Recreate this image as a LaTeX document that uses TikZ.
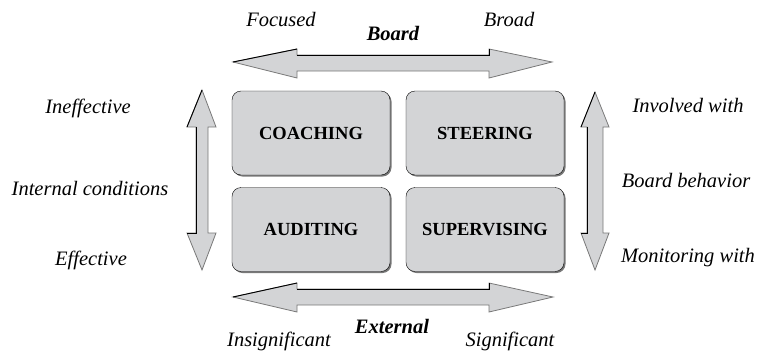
\documentclass[tikz,border=0pt]{standalone}
\usepackage{fontspec}
\setmainfont{Liberation Serif}
\usetikzlibrary{shadows}

\definecolor{boxgray}{RGB}{211,212,214}
\definecolor{edgegray}{RGB}{120,120,120}

\begin{document}
\begin{tikzpicture}[x=1pt,y=-1pt]
	\tikzstyle{Quad}	= [rounded corners=9pt, draw=black, fill=boxgray, minimum width=158pt, minimum height=84pt, inner sep=0pt,
				   font=\fontsize{18.5}{20}\selectfont\bfseries,
				   drop shadow={shadow xshift=1.5pt, shadow yshift=-1.5pt, fill=edgegray, opacity=1}]
	\tikzstyle{Pole}	= [anchor=base, inner sep=0pt, font=\fontsize{20.5}{22}\selectfont\itshape]
	\tikzstyle{Axis}	= [anchor=base, inner sep=0pt, font=\fontsize{20.5}{22}\selectfont\bfseries\itshape]
	\tikzstyle{Shaft}	= [fill=boxgray, draw=edgegray, line width=0.8pt, line join=miter]
	\tikzstyle{Lit}		= [black, line width=0.9pt]

	\useasboundingbox (0,0) rectangle (759,351);

	% board arrow (top)
	\draw [Shaft] (233,62) -- (297,49) -- (297,55) -- (489,55) -- (489,49) -- (552,62)
		-- (489,78) -- (489,71) -- (297,71) -- (297,78) -- cycle;
	\draw [Lit] (233,62) -- (297,49);
	\draw [Lit] (297,55) -- (489,55) -- (489,49);

	% external arrow (bottom)
	\draw [Shaft] (233,297) -- (297,283) -- (297,289) -- (489,289) -- (489,283) -- (553,297)
		-- (489,312) -- (489,305) -- (297,305) -- (297,312) -- cycle;
	\draw [Lit] (233,297) -- (297,283);
	\draw [Lit] (297,289) -- (489,289) -- (489,283);

	% internal conditions arrow (left)
	\draw [Shaft] (202,90) -- (216,127) -- (208,127) -- (208,233) -- (216,233) -- (202,270)
		-- (187,233) -- (196,233) -- (196,127) -- (187,127) -- cycle;
	\draw [Lit] (202,90) -- (187,127);
	\draw [Lit] (196,127) -- (196,233) -- (187,233);

	% board behavior arrow (right)
	\draw [Shaft] (595,92) -- (609,127) -- (603,127) -- (603,233) -- (609,233) -- (595,270)
		-- (581,233) -- (587,233) -- (587,127) -- (581,127) -- cycle;
	\draw [Lit] (595,92) -- (581,127);
	\draw [Lit] (587,127) -- (587,233) -- (581,233);

	\node (coach) at (311,133) [Quad] {COACHING};
	\node (steer) at (485,133) [Quad] {STEERING};
	\node (audit) at (311,229.5) [Quad] {AUDITING};
	\node (super) at (485,229.5) [Quad] {SUPERVISING};

	\node (focused) at (281,26) [Pole] {Focused};
	\node (broad) at (509,26) [Pole] {Broad};
	\node (board) at (393,40) [Axis] {Board};

	\node (ineff) at (88,113) [Pole] {Ineffective};
	\node (internal) at (90,195) [Pole] {Internal conditions};
	\node (eff) at (91,265) [Pole] {Effective};

	\node (involved) at (688,112) [Pole] {Involved with};
	\node (behavior) at (686,187) [Pole] {Board behavior};
	\node (monitor) at (688,262) [Pole] {Monitoring with};

	\node (insig) at (279,346) [Pole] {Insignificant};
	\node (external) at (392,333) [Axis] {External};
	\node (sig) at (510,346) [Pole] {Significant};
\end{tikzpicture}
\end{document}
